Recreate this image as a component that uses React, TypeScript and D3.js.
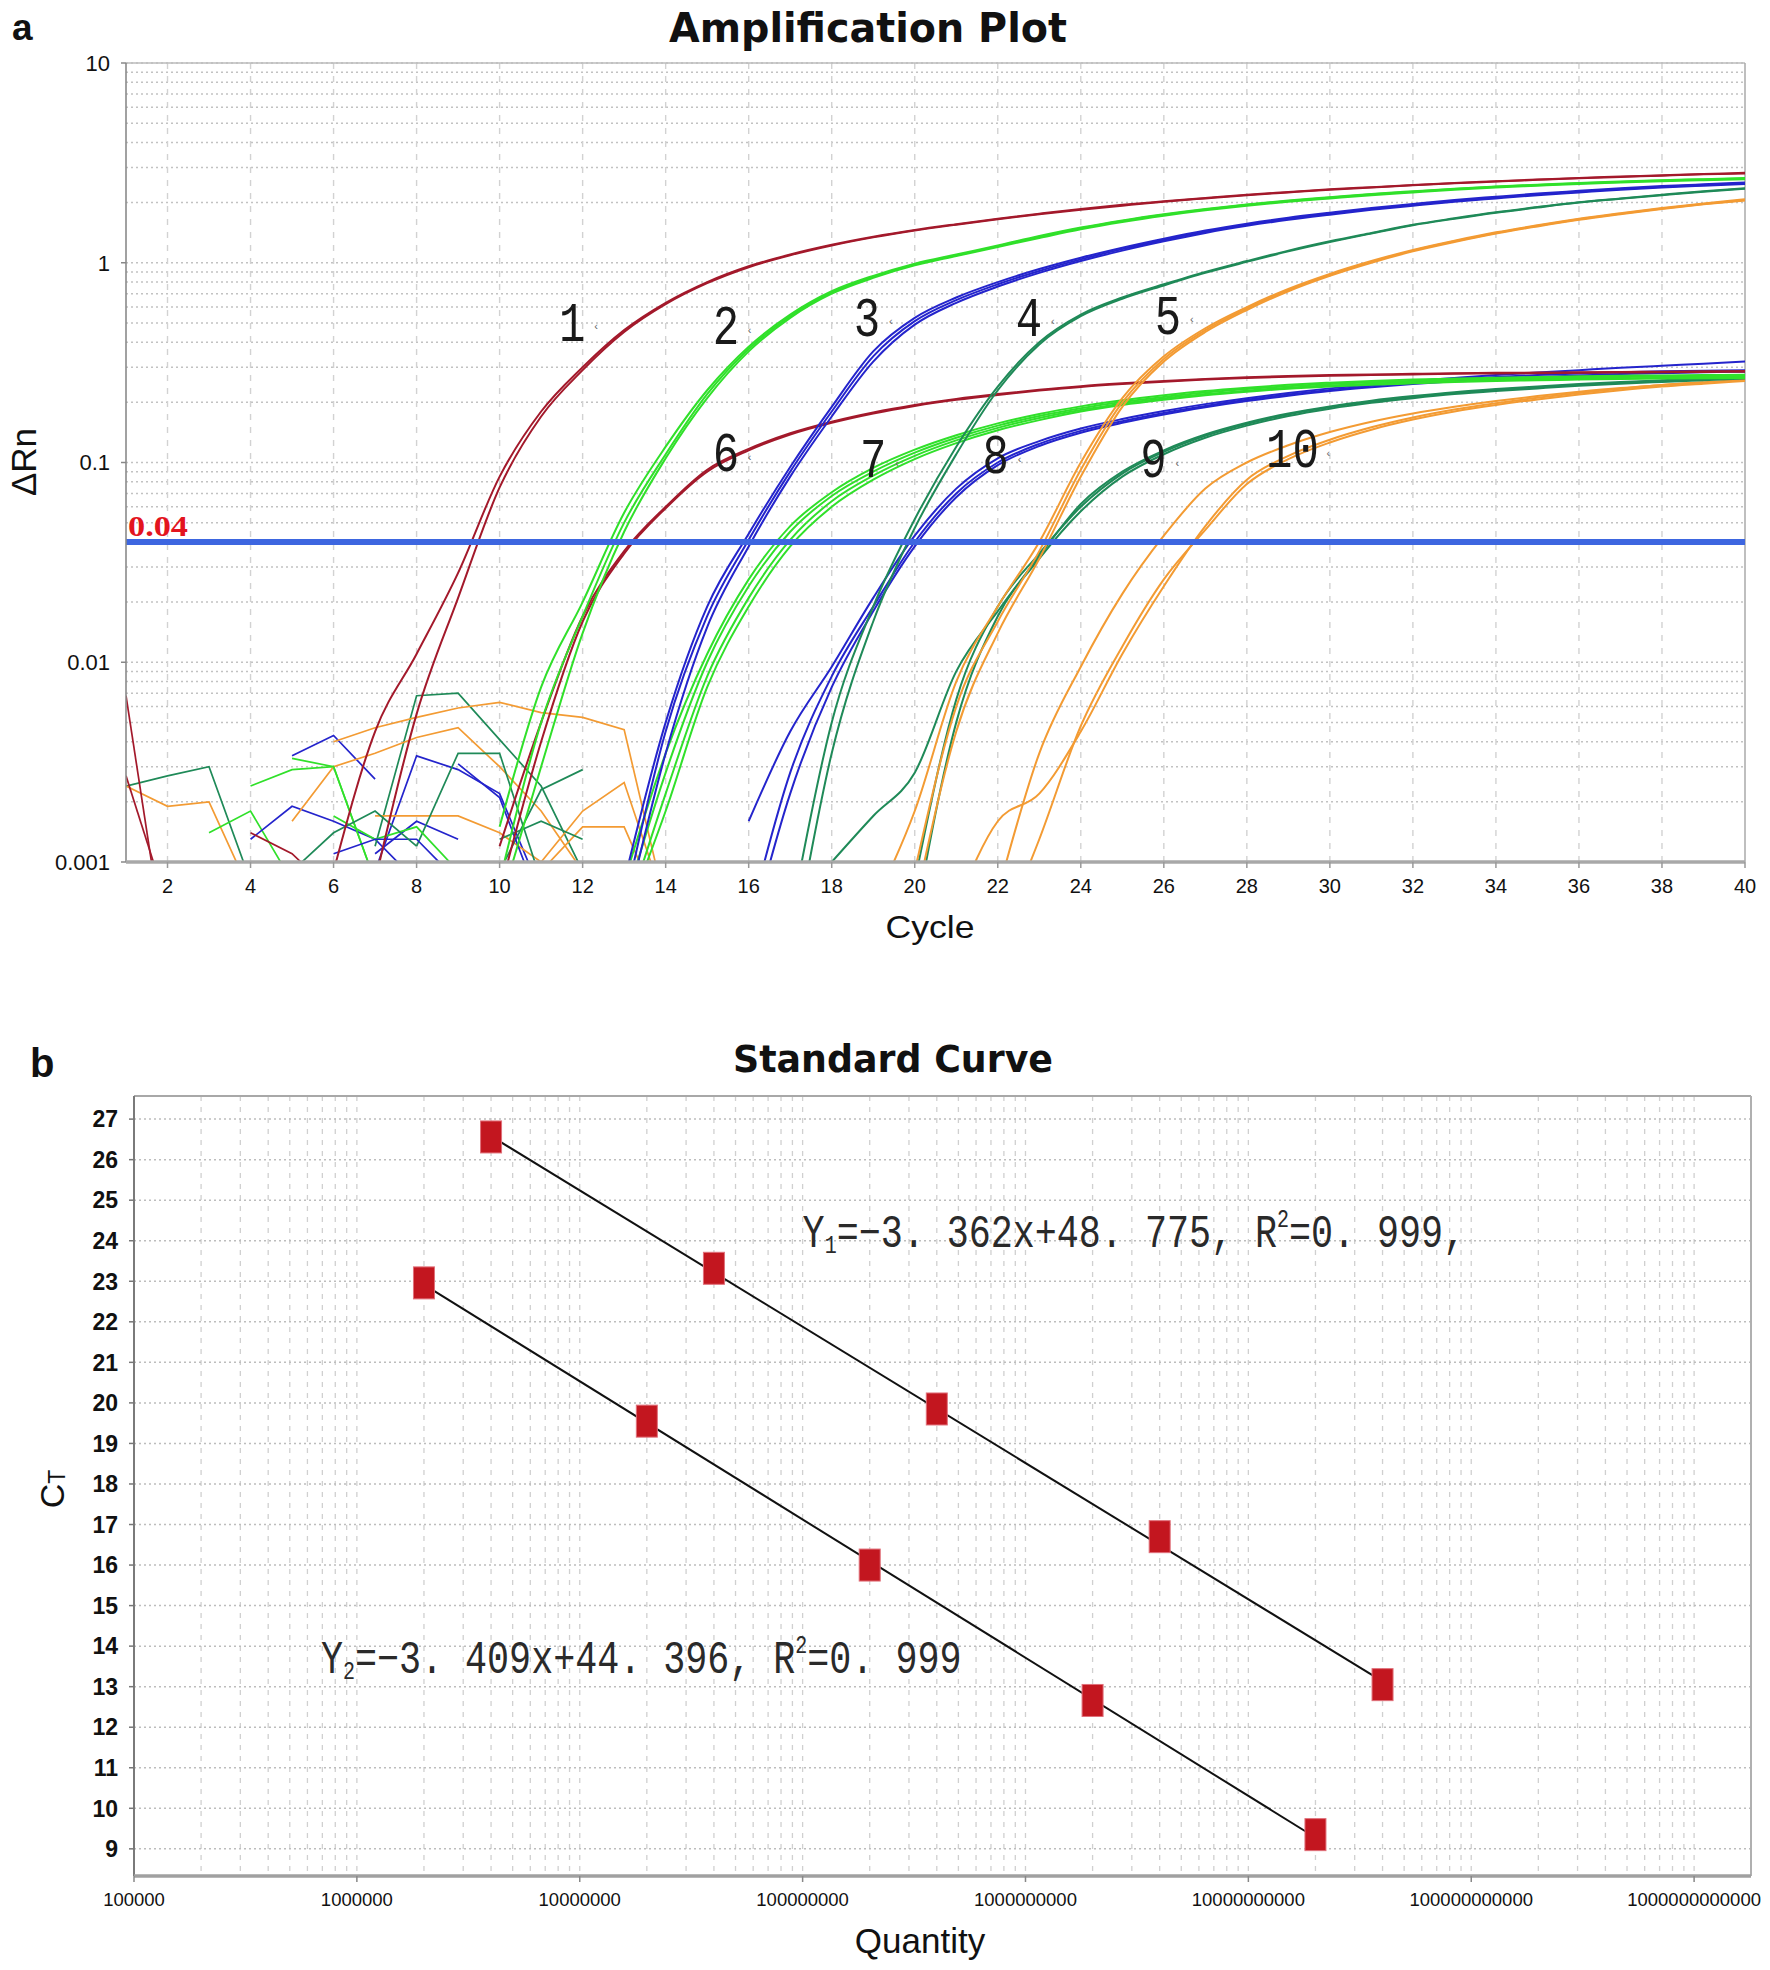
import React from "react";
import * as d3 from "d3";

// ================= Panel a : Amplification Plot =================
const cycleDomain = [1, 40];
const drnDomain = [0.001, 10];
const cycleTicks = [2, 4, 6, 8, 10, 12, 14, 16, 18, 20, 22, 24, 26, 28, 30, 32, 34, 36, 38, 40];
const drnTicks = [0.001, 0.01, 0.1, 1, 10];
const drnTickLabels = ["0.001", "0.01", "0.1", "1", "10"];
const thresholdValue = 0.04;
const thresholdLabel = "0.04";

// ΔRn per cycle for each replicate (first value belongs to the start cycle)
const curve1a = [0.0009, 0.0045, 0.011, 0.028, 0.085, 0.18, 0.30, 0.46, 0.63, 0.80, 0.96, 1.10, 1.23, 1.35, 1.46, 1.56, 1.66, 1.76, 1.86, 1.95, 2.03, 2.11, 2.19, 2.26, 2.33, 2.39, 2.45, 2.51, 2.56, 2.61, 2.66, 2.70, 2.74, 2.78, 2.82];
const curve1b = [0.0008, 0.0055, 0.021, 0.075, 0.17, 0.29, 0.45, 0.62, 0.79, 0.95, 1.09, 1.22, 1.34, 1.45, 1.55, 1.65, 1.75, 1.84, 1.93, 2.02, 2.10, 2.18, 2.25, 2.32, 2.38, 2.44, 2.50, 2.55, 2.60, 2.65, 2.69, 2.73, 2.77, 2.80];
const curve2a = [0.0015, 0.0075, 0.020, 0.056, 0.12, 0.23, 0.38, 0.55, 0.72, 0.86, 0.99, 1.10, 1.22, 1.36, 1.50, 1.63, 1.75, 1.86, 1.96, 2.05, 2.13, 2.21, 2.28, 2.35, 2.41, 2.46, 2.51, 2.55, 2.59, 2.62, 2.66];
const curve2b = [0.0008, 0.0050, 0.017, 0.050, 0.11, 0.22, 0.37, 0.54, 0.71, 0.85, 0.98, 1.09, 1.21, 1.35, 1.49, 1.62, 1.74, 1.85, 1.95, 2.04, 2.12, 2.20, 2.27, 2.34, 2.40, 2.45, 2.50, 2.54, 2.58, 2.61, 2.64];
const curve2c = [0.0006, 0.0030, 0.014, 0.045, 0.105, 0.21, 0.36, 0.53, 0.70, 0.84, 0.97, 1.08, 1.20, 1.33, 1.47, 1.60, 1.72, 1.83, 1.93, 2.02, 2.10, 2.18, 2.25, 2.32, 2.38, 2.43, 2.48, 2.52, 2.56, 2.59, 2.62];
const curve3a = [0.0008, 0.005, 0.019, 0.044, 0.095, 0.19, 0.36, 0.53, 0.67, 0.80, 0.93, 1.06, 1.19, 1.32, 1.45, 1.57, 1.68, 1.78, 1.88, 1.97, 2.06, 2.14, 2.22, 2.29, 2.36, 2.42, 2.47, 2.52];
const curve3b = [0.0006, 0.0045, 0.017, 0.041, 0.090, 0.18, 0.34, 0.51, 0.65, 0.78, 0.91, 1.04, 1.17, 1.30, 1.43, 1.55, 1.66, 1.76, 1.86, 1.95, 2.04, 2.12, 2.20, 2.27, 2.34, 2.40, 2.45, 2.50];
const curve3c = [0.0005, 0.0035, 0.015, 0.038, 0.085, 0.17, 0.32, 0.49, 0.63, 0.76, 0.89, 1.02, 1.15, 1.28, 1.41, 1.53, 1.64, 1.74, 1.84, 1.93, 2.02, 2.10, 2.18, 2.25, 2.32, 2.38, 2.43, 2.48];
const curve4a = [0.0005, 0.005, 0.019, 0.052, 0.12, 0.24, 0.40, 0.55, 0.67, 0.78, 0.90, 1.02, 1.15, 1.28, 1.41, 1.55, 1.67, 1.79, 1.90, 2.01, 2.10, 2.19, 2.28, 2.36];
const curve4b = [0.0003, 0.0035, 0.016, 0.047, 0.11, 0.23, 0.39, 0.54, 0.66, 0.77, 0.89, 1.01, 1.14, 1.27, 1.40, 1.54, 1.66, 1.78, 1.89, 2.00, 2.09, 2.18, 2.27, 2.35];
const curve5a = [0.0006, 0.0018, 0.008, 0.019, 0.040, 0.10, 0.21, 0.34, 0.47, 0.60, 0.74, 0.88, 1.02, 1.16, 1.29, 1.42, 1.54, 1.66, 1.77, 1.88, 1.98, 2.08];
const curve5b = [0.0009, 0.006, 0.016, 0.036, 0.092, 0.20, 0.33, 0.46, 0.59, 0.73, 0.87, 1.01, 1.15, 1.28, 1.41, 1.53, 1.65, 1.76, 1.87, 1.97, 2.06];
const curve5c = [0.0006, 0.0045, 0.014, 0.033, 0.085, 0.19, 0.32, 0.45, 0.58, 0.72, 0.86, 1.00, 1.14, 1.27, 1.40, 1.52, 1.64, 1.75, 1.86, 1.96, 2.05];
const curve6a = [0.0012, 0.005, 0.017, 0.036, 0.060, 0.092, 0.117, 0.140, 0.160, 0.178, 0.194, 0.208, 0.220, 0.231, 0.241, 0.249, 0.256, 0.262, 0.267, 0.271, 0.274, 0.276, 0.278, 0.280, 0.281, 0.282, 0.283, 0.284, 0.285, 0.286, 0.287];
const curve6b = [0.0007, 0.004, 0.016, 0.035, 0.059, 0.090, 0.115, 0.138, 0.158, 0.176, 0.192, 0.206, 0.218, 0.229, 0.239, 0.247, 0.254, 0.260, 0.265, 0.269, 0.272, 0.274, 0.276, 0.278, 0.279, 0.280, 0.281, 0.282, 0.283, 0.284, 0.285];
const curve7a = [0.0008, 0.0035, 0.011, 0.026, 0.048, 0.071, 0.094, 0.116, 0.137, 0.157, 0.175, 0.191, 0.205, 0.217, 0.228, 0.237, 0.245, 0.251, 0.256, 0.260, 0.263, 0.266, 0.268, 0.270, 0.272, 0.273, 0.274, 0.275];
const curve7b = [0.0006, 0.0028, 0.010, 0.024, 0.045, 0.068, 0.090, 0.112, 0.133, 0.153, 0.171, 0.187, 0.201, 0.213, 0.224, 0.233, 0.241, 0.247, 0.252, 0.256, 0.259, 0.262, 0.264, 0.266, 0.268, 0.269, 0.270, 0.271];
const curve7c = [0.0005, 0.0022, 0.0085, 0.021, 0.041, 0.064, 0.086, 0.108, 0.129, 0.149, 0.167, 0.183, 0.197, 0.209, 0.220, 0.229, 0.237, 0.243, 0.248, 0.252, 0.255, 0.258, 0.260, 0.262, 0.264, 0.265, 0.266, 0.267];
const curve7d = [0.0005, 0.0018, 0.0075, 0.019, 0.038, 0.060, 0.082, 0.104, 0.125, 0.145, 0.163, 0.180, 0.194, 0.206, 0.217, 0.226, 0.234, 0.240, 0.245, 0.249, 0.253, 0.256, 0.258, 0.260, 0.262, 0.263, 0.264, 0.265];
const curve8a = [0.0016, 0.0045, 0.0095, 0.021, 0.043, 0.074, 0.105, 0.128, 0.148, 0.165, 0.181, 0.196, 0.210, 0.223, 0.235, 0.246, 0.256, 0.265, 0.274, 0.282, 0.290, 0.298, 0.305, 0.312, 0.320];
const curve8b = [0.0005, 0.0028, 0.0085, 0.019, 0.040, 0.070, 0.100, 0.124, 0.144, 0.161, 0.177, 0.192, 0.206, 0.219, 0.231, 0.242, 0.252, 0.261, 0.268, 0.274, 0.279, 0.283, 0.286, 0.288, 0.290];
const curve8c = [0.0004, 0.0022, 0.0075, 0.018, 0.038, 0.067, 0.097, 0.121, 0.141, 0.158, 0.174, 0.189, 0.203, 0.216, 0.228, 0.238, 0.247, 0.255, 0.262, 0.268, 0.273, 0.277, 0.280, 0.283, 0.285];
const curve9a = [0.0010, 0.0017, 0.0028, 0.009, 0.018, 0.034, 0.062, 0.090, 0.115, 0.138, 0.158, 0.176, 0.191, 0.204, 0.215, 0.225, 0.233, 0.240, 0.247, 0.253, 0.258, 0.263, 0.268];
const curve9b = [0.0008, 0.0065, 0.019, 0.035, 0.060, 0.088, 0.113, 0.136, 0.156, 0.174, 0.189, 0.202, 0.213, 0.223, 0.231, 0.238, 0.245, 0.251, 0.256, 0.261, 0.266];
const curve9c = [0.0005, 0.005, 0.017, 0.033, 0.057, 0.085, 0.110, 0.133, 0.153, 0.171, 0.186, 0.199, 0.210, 0.220, 0.228, 0.235, 0.242, 0.248, 0.253, 0.258, 0.263];
const curve10a = [0.0006, 0.0016, 0.0022, 0.0045, 0.011, 0.024, 0.048, 0.082, 0.108, 0.130, 0.150, 0.168, 0.184, 0.198, 0.211, 0.223, 0.234, 0.244, 0.252, 0.260];
const curve10b = [0.0004, 0.0013, 0.0048, 0.012, 0.026, 0.046, 0.078, 0.104, 0.126, 0.146, 0.164, 0.180, 0.194, 0.207, 0.219, 0.230, 0.240, 0.248, 0.256];
const curve10c = [0.0007, 0.0035, 0.0095, 0.022, 0.043, 0.074, 0.100, 0.122, 0.142, 0.160, 0.176, 0.190, 0.203, 0.215, 0.226, 0.236, 0.244, 0.252];

// [colour group, start cycle, values]
const amplificationTraces: [string, number, number[]][] = [
  ["orange", 22, curve10c], ["orange", 22, curve10b], ["orange", 21, curve10a],
  ["dgreen", 20, curve9c], ["dgreen", 20, curve9b], ["dgreen", 18, curve9a],
  ["blue", 16, curve8c], ["blue", 16, curve8b], ["blue", 16, curve8a],
  ["green", 13, curve7d], ["green", 13, curve7c], ["green", 13, curve7b], ["green", 13, curve7a],
  ["red", 10, curve6b], ["red", 10, curve6a],
  ["orange", 20, curve5c], ["orange", 20, curve5b], ["orange", 19, curve5a],
  ["dgreen", 17, curve4b], ["dgreen", 17, curve4a],
  ["blue", 13, curve3c], ["blue", 13, curve3b], ["blue", 13, curve3a],
  ["green", 10, curve2c], ["green", 10, curve2b], ["green", 10, curve2a],
  ["red", 7, curve1b], ["red", 6, curve1a],
];

// baseline noise segments
const noiseA = [0.0024, 0.0027, 0.0030, 0.0008];
const noiseB = [0.0024, 0.0019, 0.0020, 0.0007];
const noiseC = [0.0068, 0.0003];
const noiseD = [0.0027, 0.0006];
const noiseE = [0.0014, 0.0018, 0.0008];
const noiseF = [0.0024, 0.0029, 0.0030, 0.0008];
const noiseG = [0.0034, 0.0043, 0.0026];
const noiseH = [0.0013, 0.0019, 0.0016, 0.0013, 0.0008];
const noiseI = [0.0011, 0.0016, 0.0013];
const noiseJ = [0.0009, 0.0034, 0.0029, 0.0022, 0.0007];
const noiseK = [0.0012, 0.0068, 0.0070, 0.0041, 0.0024, 0.0009];
const noiseL = [0.0040, 0.0047, 0.0053, 0.0059, 0.0063, 0.0056, 0.0053, 0.0046, 0.0006];
const noiseM = [0.0016, 0.0030, 0.0035, 0.0042, 0.0047, 0.0030, 0.0018, 0.0009];
const noiseN = [0.0017, 0.0017, 0.0017, 0.0014, 0.0010, 0.0008];
const noiseO = [0.0010, 0.0018, 0.0025, 0.0006];
const noiseP = [0.0009, 0.0015, 0.0015, 0.0005];
const noiseQ = [0.0012, 0.0035, 0.0035, 0.0008];
const noiseR = [0.0009, 0.0023, 0.0029];
const noiseS = [0.0031, 0.0021, 0.0006];
const noiseT = [0.0013, 0.0016, 0.0013];
const noiseU = [0.0014, 0.0011, 0.0007];
const noiseV = [0.0033, 0.0030, 0.0008];
const noiseW = [0.0017, 0.0013, 0.0015, 0.0009];
const noiseX = [0.0011, 0.0013, 0.0013, 0.0008];
const noiseY = [0.0009, 0.0014, 0.0018, 0.0012];

const noiseTraces: [string, number, number[]][] = [
  ["dgreen", 1, noiseA], ["orange", 1, noiseB], ["red", 1, noiseC], ["red", 1, noiseD],
  ["green", 3, noiseE], ["green", 4, noiseF], ["blue", 5, noiseG], ["blue", 4, noiseH],
  ["blue", 7, noiseI], ["blue", 7, noiseJ], ["dgreen", 7, noiseK], ["orange", 6, noiseL],
  ["orange", 5, noiseM], ["orange", 7, noiseN], ["orange", 11, noiseO], ["orange", 11, noiseP],
  ["dgreen", 8, noiseQ], ["dgreen", 10, noiseR], ["blue", 9, noiseS], ["dgreen", 10, noiseT],
  ["red", 4, noiseU], ["green", 5, noiseV], ["green", 6, noiseW], ["blue", 6, noiseX],
  ["dgreen", 5, noiseY],
];

const curveLabelText = ["1", "2", "3", "4", "5", "6", "7", "8", "9", "10"];
const curveLabelCycle = [11.75, 15.45, 18.85, 22.75, 26.1, 15.45, 19.0, 21.95, 25.75, 29.1];
const curveLabelDrn = [0.48, 0.46, 0.51, 0.51, 0.52, 0.107, 0.10, 0.104, 0.10, 0.112];

// ================= Panel b : Standard Curve =================
const quantityDomain = [1e5, 1.8e12];
const ctDomain = [8.33, 27.57];
const quantityTicks = [1e5, 1e6, 1e7, 1e8, 1e9, 1e10, 1e11, 1e12];
const quantityTickLabels = ["100000", "1000000", "10000000", "100000000", "1000000000", "10000000000", "100000000000", "1000000000000"];
const ctTicks = [9, 10, 11, 12, 13, 14, 15, 16, 17, 18, 19, 20, 21, 22, 23, 24, 25, 26, 27];

const std1Quantity = [4e6, 4e7, 4e8, 4e9, 4e10];
const std1Ct = [26.56, 23.32, 19.85, 16.70, 13.05];
const std2Quantity = [2e6, 2e7, 2e8, 2e9, 2e10];
const std2Ct = [22.96, 19.55, 16.00, 12.66, 9.35];
const fit1Slope = -3.362, fit1Intercept = 48.775;
const fit2Slope = -3.409, fit2Intercept = 44.396;

const COLORS: Record<string, string> = {
  red: "#a3192b",
  green: "#30e02a",
  blue: "#2424cc",
  dgreen: "#1f8a58",
  orange: "#f39b33",
};

const SANS = "'Liberation Sans', Arial, sans-serif";
const MONO = "'Liberation Mono', 'Courier New', monospace";

export default function App() {
  // ---- scales a
  const xA = d3.scaleLinear().domain(cycleDomain).range([126, 1745]);
  const yA = d3.scaleLog().domain(drnDomain).range([862, 63]);
  const smooth = d3.line<number[]>().x((d) => xA(d[0])).y((d) => yA(d[1])).curve(d3.curveMonotoneX);
  const raw = d3.line<number[]>().x((d) => xA(d[0])).y((d) => yA(d[1]));
  const pts = (start: number, vals: number[]) => vals.map((v, i) => [start + i, v]);

  const minorA: number[] = [];
  for (let e = -3; e <= 0; e++) for (let k = 1; k <= 9; k++) minorA.push(k * Math.pow(10, e));
  minorA.push(10);

  // ---- scales b
  const xB = d3.scaleLog().domain(quantityDomain).range([134, 1751]);
  const yB = d3.scaleLinear().domain(ctDomain).range([1876, 1096]);
  const minorB: number[] = [];
  for (let e = 5; e <= 12; e++) for (let k = 1; k <= 9; k++) {
    const v = k * Math.pow(10, e);
    if (v <= quantityDomain[1]) minorB.push(v);
  }
  const fitLine = (q: number[], s: number, b: number) => {
    const q0 = q[0], q1 = q[q.length - 1];
    return { x1: xB(q0), y1: yB(s * Math.log10(q0) + b), x2: xB(q1), y2: yB(s * Math.log10(q1) + b) };
  };
  const f1 = fitLine(std1Quantity, fit1Slope, fit1Intercept);
  const f2 = fitLine(std2Quantity, fit2Slope, fit2Intercept);

  const [aL, aR] = xA.range();
  const [aB, aT] = yA.range();
  const [bL, bR] = xB.range();
  const [bB, bT] = yB.range();

  return (
    <svg width={1770} height={1970} style={{ position: "absolute", left: 0, top: 0, background: "#fff" }}>
      <defs>
        <clipPath id="clipA">
          <rect x={aL} y={aT} width={aR - aL} height={aB - aT} />
        </clipPath>
      </defs>
      <rect x={0} y={0} width={1770} height={1970} fill="#fff" />

      {/* ================= Panel a ================= */}
      <text x={12} y={40} fontFamily={SANS} fontWeight="bold" fontSize={37} fill="#111">a</text>
      <text x={868} y={42} textAnchor="middle" fontFamily="'DejaVu Sans', Verdana, sans-serif" fontWeight="bold"
        fontSize={40} textLength={398} lengthAdjust="spacingAndGlyphs" fill="#111">Amplification Plot</text>

      {/* grid */}
      {minorA.map((v, i) => (
        <line key={"ha" + i} x1={aL} x2={aR} y1={yA(v)} y2={yA(v)} stroke="#c2c2c2" strokeWidth={1.5} strokeDasharray="2,3" />
      ))}
      {cycleTicks.filter((c) => c < 40).map((c) => (
        <line key={"va" + c} x1={xA(c)} x2={xA(c)} y1={aT} y2={aB} stroke="#d2d2d2" strokeWidth={1.4} strokeDasharray="6,7" />
      ))}

      {/* frame */}
      <line x1={aL} x2={aR} y1={aT} y2={aT} stroke="#bbbbbb" strokeWidth={1.5} />
      <line x1={aR} x2={aR} y1={aT} y2={aB} stroke="#aaaaaa" strokeWidth={1.5} />

      {/* curves */}
      <g clipPath="url(#clipA)">
        {noiseTraces.map(([c, s, v], i) => (
          <path key={"n" + i} d={raw(pts(s, v)) || ""} fill="none" stroke={COLORS[c]} strokeWidth={1.7} />
        ))}
        {amplificationTraces.map(([c, s, v], i) => (
          <path key={"t" + i} d={smooth(pts(s, v)) || ""} fill="none" stroke={COLORS[c]} strokeWidth={2} />
        ))}
        <line x1={aL} x2={aR} y1={yA(thresholdValue)} y2={yA(thresholdValue)} stroke="#3d66e0" strokeWidth={6} />
      </g>
      <text x={xA(1) + 2} y={yA(thresholdValue) - 6} fontFamily="'Liberation Serif', 'Times New Roman', serif" fontWeight="bold"
        fontSize={29} fill="#e3141e" textLength={60} lengthAdjust="spacingAndGlyphs">{thresholdLabel}</text>

      {/* curve labels */}
      {curveLabelText.map((t, i) => (
        <g key={"cl" + i} transform={`translate(${xA(curveLabelCycle[i])},${yA(curveLabelDrn[i])})`}>
          <text transform="scale(1,1.25)" textAnchor="middle" dominantBaseline="central" fontFamily={MONO} fontSize={44} fill="#1a1a1a">{t}</text>
          <text x={t.length > 1 ? 34 : 22} y={4} fontFamily={SANS} fontSize={11} fill="#666">‹</text>
        </g>
      ))}

      {/* axes */}
      <line x1={aL} x2={aL} y1={aT} y2={aB} stroke="#8a8a8a" strokeWidth={1.6} />
      <line x1={aL} x2={aR} y1={aB} y2={aB} stroke="#a8a8a8" strokeWidth={3.5} />
      {drnTicks.map((v, i) => (
        <g key={"ya" + i}>
          <line x1={aL - 5} x2={aL} y1={yA(v)} y2={yA(v)} stroke="#888" strokeWidth={1.5} />
          <text x={110} y={yA(v)} dy="0.36em" textAnchor="end" fontFamily={SANS} fontSize={22} fill="#111">{drnTickLabels[i]}</text>
        </g>
      ))}
      {cycleTicks.map((c) => (
        <g key={"xa" + c}>
          <line x1={xA(c)} x2={xA(c)} y1={aB} y2={aB + 6} stroke="#999" strokeWidth={1.5} />
          <text x={xA(c)} y={893} textAnchor="middle" fontFamily={SANS} fontSize={20} fill="#111">{c}</text>
        </g>
      ))}
      <text x={930} y={938} textAnchor="middle" fontFamily={SANS} fontSize={32} textLength={89} lengthAdjust="spacingAndGlyphs" fill="#111">Cycle</text>
      <text transform="translate(36,462) rotate(-90)" textAnchor="middle" fontFamily={SANS} fontSize={35} fill="#111">ΔRn</text>

      {/* ================= Panel b ================= */}
      <text x={30} y={1077} fontFamily={SANS} fontWeight="bold" fontSize={40} fill="#111">b</text>
      <text x={893} y={1072} textAnchor="middle" fontFamily="'DejaVu Sans', Verdana, sans-serif" fontWeight="bold"
        fontSize={37} textLength={320} lengthAdjust="spacingAndGlyphs" fill="#111">Standard Curve</text>

      {minorB.map((q, i) => (
        <line key={"vb" + i} x1={xB(q)} x2={xB(q)} y1={bT} y2={bB} stroke="#d0d0d0" strokeWidth={1.3} strokeDasharray="5,6" />
      ))}
      {ctTicks.map((t) => (
        <line key={"hb" + t} x1={bL} x2={bR} y1={yB(t)} y2={yB(t)} stroke="#bdbdbd" strokeWidth={1.5} strokeDasharray="2,3" />
      ))}
      <line x1={bL} x2={bR} y1={bT} y2={bT} stroke="#a8a8a8" strokeWidth={2} />
      <line x1={bR} x2={bR} y1={bT} y2={bB} stroke="#b0b0b0" strokeWidth={2} />
      <line x1={bL} x2={bL} y1={bT} y2={bB} stroke="#7a7a7a" strokeWidth={2} />
      <line x1={bL} x2={bR} y1={bB} y2={bB} stroke="#a0a0a0" strokeWidth={3.5} />

      {ctTicks.map((t) => (
        <g key={"yb" + t}>
          <line x1={bL - 5} x2={bL} y1={yB(t)} y2={yB(t)} stroke="#777" strokeWidth={1.5} />
          <text x={118} y={yB(t)} dy="0.36em" textAnchor="end" fontFamily={SANS} fontWeight="bold" fontSize={23} fill="#111">{t}</text>
        </g>
      ))}
      {quantityTicks.map((q, i) => (
        <g key={"xb" + i}>
          <line x1={xB(q)} x2={xB(q)} y1={bB} y2={bB + 6} stroke="#888" strokeWidth={1.5} />
          <text x={xB(q)} y={1906} textAnchor="middle" fontFamily={SANS} fontSize={18.5} fill="#111">{quantityTickLabels[i]}</text>
        </g>
      ))}

      {/* fit lines */}
      <line {...f1} stroke="#111" strokeWidth={2} />
      <line {...f2} stroke="#111" strokeWidth={2} />

      {/* standards */}
      {std1Quantity.map((q, i) => (
        <rect key={"s1" + i} x={xB(q) - 10.5} y={yB(std1Ct[i]) - 16} width={21} height={32} fill="#c3161f" stroke="#e0707a" strokeWidth={1} />
      ))}
      {std2Quantity.map((q, i) => (
        <rect key={"s2" + i} x={xB(q) - 10.5} y={yB(std2Ct[i]) - 16} width={21} height={32} fill="#c3161f" stroke="#e0707a" strokeWidth={1} />
      ))}

      {/* equations */}
      <g transform={`translate(${xB(1e8)},${yB(23.85)}) scale(1,1.25)`}>
        <text x={0} y={0} fontFamily={MONO} fontSize={36.7} fill="#2a2a2a" style={{ whiteSpace: "pre" }}>
          Y<tspan fontSize={20} dy={5}>1</tspan><tspan dy={-5}>=−3. 362x+48. 775, R</tspan><tspan fontSize={20} dy={-16}>2</tspan><tspan dy={16}>=0. 999,</tspan>
        </text>
      </g>
      <g transform={`translate(${xB(6.9e5)},${yB(13.34)}) scale(1,1.25)`}>
        <text x={0} y={0} fontFamily={MONO} fontSize={36.7} fill="#2a2a2a" style={{ whiteSpace: "pre" }}>
          Y<tspan fontSize={20} dy={5}>2</tspan><tspan dy={-5}>=−3. 409x+44. 396, R</tspan><tspan fontSize={20} dy={-16}>2</tspan><tspan dy={16}>=0. 999</tspan>
        </text>
      </g>

      <text x={920} y={1953} textAnchor="middle" fontFamily={SANS} fontSize={35} fill="#111">Quantity</text>
      <text transform="translate(64,1489) rotate(-90)" textAnchor="middle" fontFamily={SANS} fill="#111">
        <tspan fontSize={34}>C</tspan><tspan fontSize={23} dy={1}>T</tspan>
      </text>
    </svg>
  );
}
